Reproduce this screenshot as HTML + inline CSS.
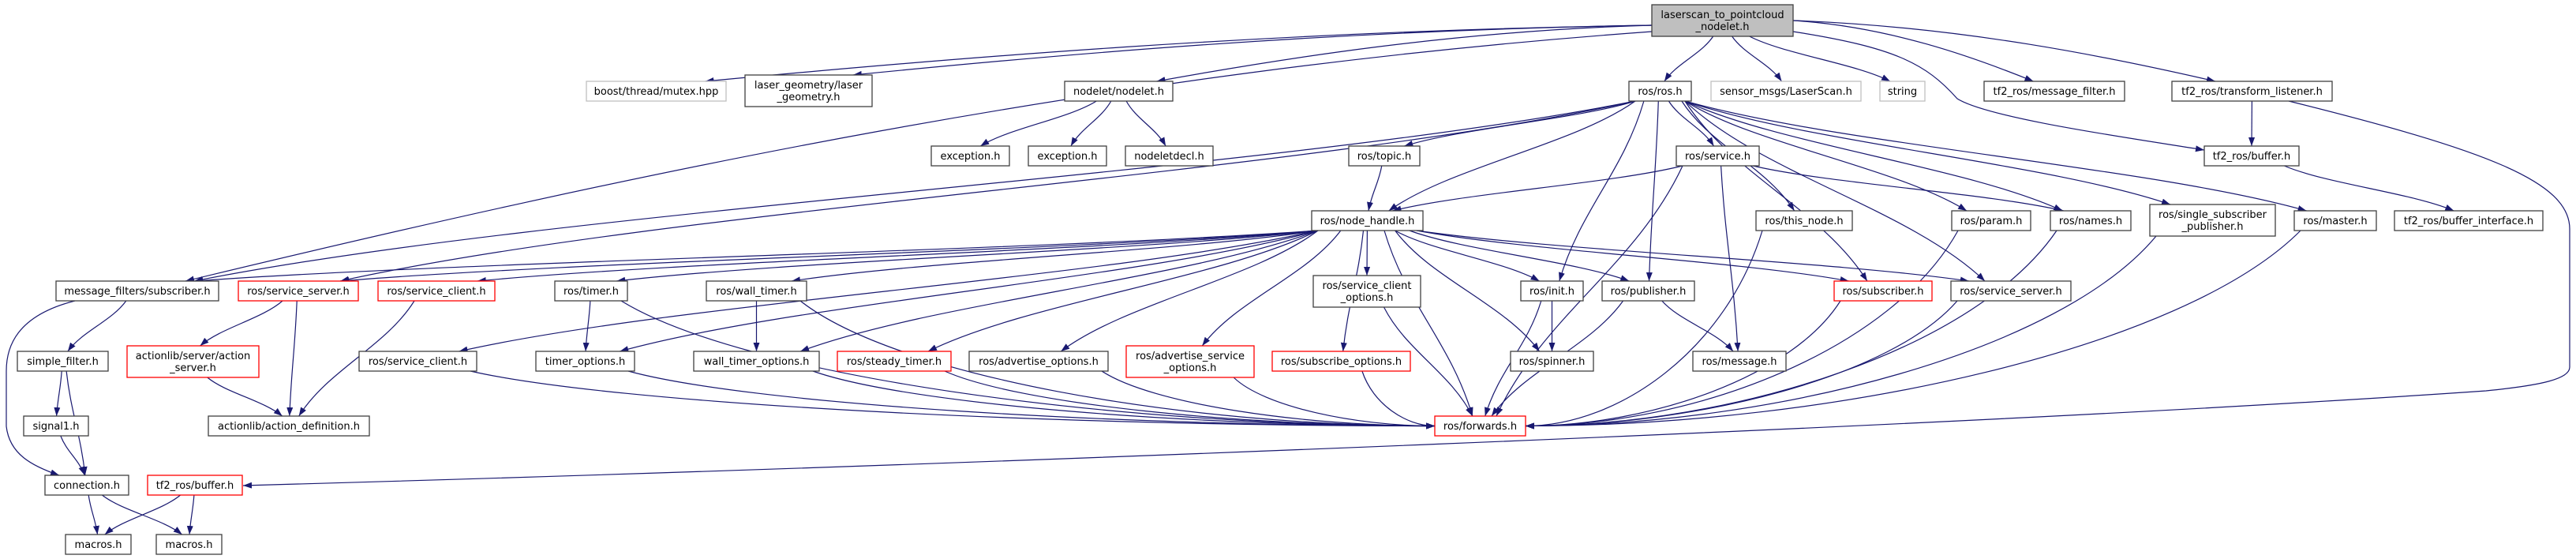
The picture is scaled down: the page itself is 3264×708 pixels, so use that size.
<!DOCTYPE html>
<html><head><meta charset="utf-8"><style>
html,body{margin:0;padding:0;background:#fff;width:3264px;height:708px;overflow:hidden}
svg text{font-family:"DejaVu Sans","Liberation Sans",sans-serif;font-size:13px;fill:#000}
</style></head><body>
<svg id="g" xmlns="http://www.w3.org/2000/svg" width="3264" height="708" viewBox="0 0 3264 708">
<defs><marker id="ah" markerUnits="userSpaceOnUse" markerWidth="12" markerHeight="9" refX="11" refY="4" orient="auto"><path d="M0,0 L11,4 L0,8 z" fill="#191970"/></marker></defs>
<g id="edges" fill="none" stroke="#191970" stroke-width="1.2"></g>
<g id="nodes"></g>
</svg>
<script>
var N={
root:[2093,2272,6,46,"f",["laserscan_to_pointcloud","_nodelet.h"]],
boost:[743,920,103,128,"g",["boost/thread/mutex.hpp"]],
lg:[944,1105,95,135,"b",["laser_geometry/laser","_geometry.h"]],
nodelet:[1349,1486,103,128,"b",["nodelet/nodelet.h"]],
rosh:[2064,2143,103,128,"b",["ros/ros.h"]],
sensor:[2168,2358,103,128,"g",["sensor_msgs/LaserScan.h"]],
string:[2382,2439,103,128,"g",["string"]],
tfmf:[2514,2692,103,128,"b",["tf2_ros/message_filter.h"]],
tftl:[2752,2955,103,128,"b",["tf2_ros/transform_listener.h"]],
exc1:[1180,1279,185,210,"b",["exception.h"]],
exc2:[1303,1402,185,210,"b",["exception.h"]],
ndecl:[1426,1537,185,210,"b",["nodeletdecl.h"]],
topic:[1709,1799,185,210,"b",["ros/topic.h"]],
service:[2124,2229,185,210,"b",["ros/service.h"]],
tfbuf:[2793,2913,185,210,"b",["tf2_ros/buffer.h"]],
nh:[1662,1803,267,292,"b",["ros/node_handle.h"]],
thisnode:[2225,2347,267,292,"b",["ros/this_node.h"]],
param:[2473,2573,267,292,"b",["ros/param.h"]],
names:[2598,2700,267,292,"b",["ros/names.h"]],
ssp:[2724,2883,259,299,"b",["ros/single_subscriber","_publisher.h"]],
master:[2907,3011,267,292,"b",["ros/master.h"]],
tfbi:[3034,3222,267,292,"b",["tf2_ros/buffer_interface.h"]],
mfs:[71,277,356,381,"b",["message_filters/subscriber.h"]],
ssr:[302,454,356,381,"r",["ros/service_server.h"]],
scr:[479,627,356,381,"r",["ros/service_client.h"]],
timer:[703,795,356,381,"b",["ros/timer.h"]],
wtimer:[895,1022,356,381,"b",["ros/wall_timer.h"]],
sco:[1664,1800,349,389,"b",["ros/service_client","_options.h"]],
init:[1927,2006,356,381,"b",["ros/init.h"]],
pub:[2030,2147,356,381,"b",["ros/publisher.h"]],
subr:[2324,2448,356,381,"r",["ros/subscriber.h"]],
ssb:[2472,2624,356,381,"b",["ros/service_server.h"]],
sf:[22,137,445,470,"b",["simple_filter.h"]],
as:[161,328,438,478,"r",["actionlib/server/action","_server.h"]],
scb:[455,604,445,470,"b",["ros/service_client.h"]],
to:[679,804,445,470,"b",["timer_options.h"]],
wto:[879,1038,445,470,"b",["wall_timer_options.h"]],
st:[1061,1205,445,470,"r",["ros/steady_timer.h"]],
ao:[1228,1404,445,470,"b",["ros/advertise_options.h"]],
aso:[1427,1589,438,478,"r",["ros/advertise_service","_options.h"]],
so:[1612,1787,445,470,"r",["ros/subscribe_options.h"]],
spin:[1914,2019,445,470,"b",["ros/spinner.h"]],
msg:[2145,2263,445,470,"b",["ros/message.h"]],
sig:[30,112,527,552,"b",["signal1.h"]],
ad:[264,468,527,552,"b",["actionlib/action_definition.h"]],
fw:[1818,1933,527,552,"r",["ros/forwards.h"]],
conn:[57,163,602,627,"b",["connection.h"]],
tfbr:[187,307,602,627,"r",["tf2_ros/buffer.h"]],
m1:[83,166,677,702,"b",["macros.h"]],
m2:[198,281,677,702,"b",["macros.h"]]
};
var E=[
["root","boost"],["root","lg"],["root","nodelet"],["root","rosh"],["root","sensor"],["root","string"],["root","tfmf"],["root","tftl"],
["nodelet","exc1"],["nodelet","exc2"],["nodelet","ndecl"],["tftl","tfbuf"],["tfbuf","tfbi"],
["rosh","topic"],["rosh","nh"],["rosh","service"],["rosh","init"],["rosh","pub"],["rosh","thisnode"],["rosh","subr"],["rosh","param"],["rosh","names"],["rosh","ssp"],["rosh","master"],["rosh","ssb"],["rosh","mfs"],["rosh","ssr"],
["topic","nh"],["service","nh"],["service","names"],["service","msg"],["service","fw"],
["nh","mfs"],["nh","ssr"],["nh","scr"],["nh","scb"],["nh","timer"],["nh","to"],["nh","wtimer"],["nh","wto"],["nh","st"],["nh","ao"],["nh","aso"],["nh","so"],["nh","sco"],["nh","init"],["nh","pub"],["nh","spin"],["nh","fw"],["nh","subr"],["nh","ssb"],
["thisnode","fw"],["param","fw"],["names","fw"],["ssp","fw"],["master","fw"],["ssb","fw"],["subr","fw"],["pub","fw"],["init","fw"],["timer","fw"],["to","fw"],["scb","fw"],["wtimer","fw"],["wto","fw"],["st","fw"],["ao","fw"],["aso","fw"],["so","fw"],["sco","fw"],
["init","spin"],["pub","msg"],["mfs","sf"],["sf","sig"],["sf","conn"],["sig","conn"],["conn","m1"],["conn","m2"],["tfbr","m1"],["tfbr","m2"],
["ssr","as"],["ssr","ad"],["as","ad"],["scr","ad"],["timer","to"],["wtimer","wto"]
];
var sideExit={"root>boost":1,"root>lg":1,"root>nodelet":1,"root>tfmf":1,"root>tftl":1};
var special=[
"M2900,128 C3150,190 3256,230 3256,290 L3256,465 C3256,480 3220,488 3150,495 C2500,540 1200,590 308,615",
"M95,381 C20,400 8,440 8,470 L8,540 C12,575 40,590 75,602",
"M2093,40 C1400,90 800,220 235,356",
"M2272,40 C2400,60 2440,80 2480,125 C2520,150 2700,175 2793,190"
];
function cl(v,a,b){return Math.max(a,Math.min(b,v));}
function f(v){return v.toFixed(1);}
var out="";
E.forEach(function(e){
 var A=N[e[0]],B=N[e[1]];
 var acx=(A[0]+A[1])/2,bcx=(B[0]+B[1])/2,dx=bcx-acx;
 var sx,sy,side=false;
 if(sideExit[e[0]+">"+e[1]]){sx=dx<0?A[0]:A[1];sy=(A[2]+A[3])/2+(dx<0?6:0);side=true;}
 else{sx=cl(acx+dx*0.15,A[0]+8,A[1]-8);sy=A[3];}
 var ddx=bcx-sx,ddy=B[2]-sy,tx,ty,w=B[1]-B[0],d;
 if(e[1]=="fw" && Math.abs(ddx)>1.5*ddy && (sx<B[0]||sx>B[1])){
   tx=ddx>0?B[0]:B[1];ty=(B[2]+B[3])/2;
   var Dx=tx-sx,Dy=ty-sy;
   d='M'+f(sx)+','+f(sy)+' C'+f(sx+Dx*0.15)+','+f(sy+Dy*0.6)+' '+f(tx-Dx*0.4)+','+f(ty)+' '+f(tx)+','+f(ty);
 } else {
   tx=bcx+cl(-ddx*0.08,-w*0.35,w*0.35);ty=B[2];
   var Dx=tx-sx,Dy=ty-sy;
   var p1x=side?sx+Dx*0.4:sx+Dx*0.25, p1y=side?sy+Dy*0.1:sy+Dy*0.4;
   d='M'+f(sx)+','+f(sy)+' C'+f(p1x)+','+f(p1y)+' '+f(tx-Dx*0.25)+','+f(ty-Dy*0.4)+' '+f(tx)+','+f(ty);
 }
 out+='<path d="'+d+'" marker-end="url(#ah)"/>';
});
special.forEach(function(d){out+='<path d="'+d+'" marker-end="url(#ah)"/>';});
document.getElementById("edges").innerHTML=out;
var o2="";
for(var k in N){var n=N[k],w=n[1]-n[0],h=n[3]-n[2];
 var st=n[4]=="f"?'fill="#bfbfbf" stroke="#404040"':n[4]=="g"?'fill="#fff" stroke="#bfbfbf"':n[4]=="r"?'fill="#fff" stroke="#ff0000"':'fill="#fff" stroke="#404040"';
 o2+='<rect x="'+n[0]+'" y="'+n[2]+'" width="'+w+'" height="'+h+'" '+st+' stroke-width="1.3"/>';
 var cx=(n[0]+n[1])/2;
 if(n[5].length==1){o2+='<text x="'+cx+'" y="'+(n[2]+h/2+4.5)+'" text-anchor="middle">'+n[5][0]+'</text>';}
 else{o2+='<text x="'+cx+'" y="'+(n[2]+h/2-3)+'" text-anchor="middle">'+n[5][0]+'</text><text x="'+cx+'" y="'+(n[2]+h/2+12)+'" text-anchor="middle">'+n[5][1]+'</text>';}
}
document.getElementById("nodes").innerHTML=o2;
</script>
</body></html>
